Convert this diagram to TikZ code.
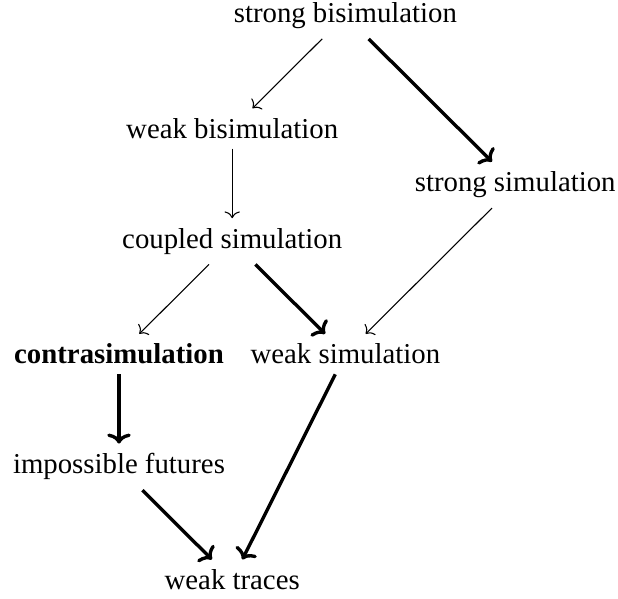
\documentclass[tikz,border=0pt]{standalone}
\usepackage{fontspec}
\setmainfont{Liberation Serif}
\usetikzlibrary{arrows.meta}
\begin{document}
\begin{tikzpicture}[x=47.17pt,y=-47pt,
  lbl/.style={font=\fontsize{12}{14.4}\selectfont, inner sep=4pt},
  weakarrow/.style={line width=0.45pt, -{To[length=2.8pt,width=6.4pt,line width=0.45pt]}},
  strongarrow/.style={line width=1.4pt, -{To[length=4.2pt,width=9.8pt,line width=1.4pt]}}]
\useasboundingbox (-49.58pt,6.54pt) rectangle (207.92pt,-242.63pt);
\node[lbl] (sb) at (2,0) {strong bisimulation};
\node[lbl] (wb) at (1,1) {weak bisimulation};
\node[lbl] (ss) at (3.5,1.5) {strong simulation};
\node[lbl] (cs) at (1,2) {coupled simulation};
\node[lbl] (con) at (0,3) {\textbf{contrasimulation}};
\node[lbl] (ws) at (2,3) {weak simulation};
\node[lbl] (if) at (0,4) {impossible futures};
\node[lbl] (wt) at (1,5) {weak traces};
\draw[weakarrow] (sb) -- (wb);
\draw[strongarrow] (sb) -- (ss);
\draw[weakarrow] (wb) -- (cs);
\draw[weakarrow] (ss) -- (ws);
\draw[weakarrow] (cs) -- (con);
\draw[strongarrow] (cs) -- (ws);
\draw[strongarrow] (con) -- (if);
\draw[strongarrow] (if) -- (wt);
\draw[strongarrow] (ws) -- (wt);
\end{tikzpicture}
\end{document}
